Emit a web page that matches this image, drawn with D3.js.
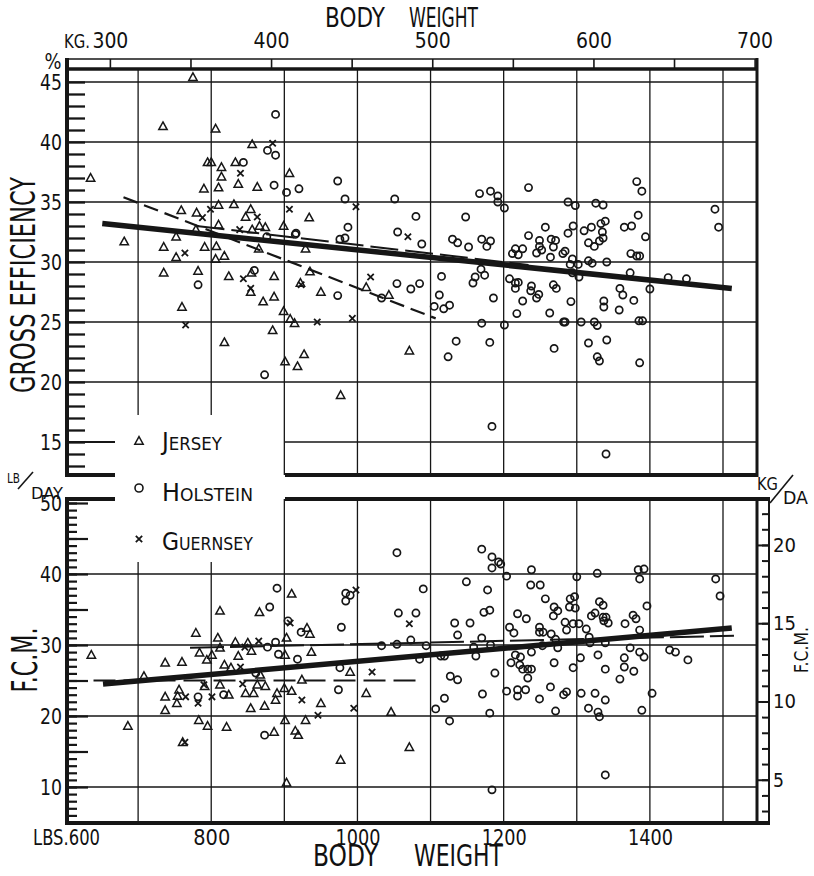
<!DOCTYPE html>
<html>
<head>
<meta charset="utf-8">
<script src="https://cdn.jsdelivr.net/npm/d3@7"></script>
<style>
  body { margin: 0; background: #fff; }
  svg { display: block; font-family: "DejaVu Sans", sans-serif; }
  text { fill: #111; }
</style>
</head>
<body>
<div id="wrapper"></div>
<script>
// tick labels
const lbsTicks = [800, 1000, 1200, 1400]
const kgTicks = [300, 400, 500, 600, 700]
const effTicks = [15, 20, 25, 30, 35, 40, 45]
const fcmTicks = [10, 20, 30, 40, 50]
const kgDayTicks = [5, 10, 15, 20]
const gridLbs = [700, 800, 900, 1000, 1100, 1200, 1300, 1400, 1500]

// gross efficiency (%) vs body weight (lbs)
const topJersey = [[775,45.4],[734,41.3],[806,41.1],[635,37.0],[856,39.8],[795,38.3],[800,38.3],[814,37.9],[833,38.3],[814,37.1],[790,36.1],[810,36.2],[837,36.5],[863,36.25],[907,37.4],[810,34.75],[831,34.8],[759,34.3],[780,34.1],[854,34.4],[847,33.75],[810,33.1],[779,32.7],[866,33.0],[874,32.9],[856,32.7],[899,33.0],[681,31.7],[752,32.1],[735,31.25],[791,31.25],[807,31.3],[752,30.4],[806,30.25],[818,30.5],[865,31.1],[735,29.1],[782,29.25],[824,28.8],[855,29.1],[886,28.8],[922,28.25],[871,26.7],[886,27.1],[760,26.25],[854,27.5],[899,25.9],[908,25.25],[914,24.9],[884,24.3],[818,23.3],[901,21.7],[918,21.3],[927,22.3],[934,33.7],[929,31.1],[935,29.2],[950,27.5],[1012,27.9],[1043,27.25],[977,18.9],[1071,22.6]]
const topHolstein = [[888,42.3],[877,39.3],[888,38.9],[844,38.3],[886,36.4],[903,35.8],[920,36.1],[915,32.3],[876,32.1],[782,28.1],[859,29.3],[873,20.6],[973,36.75],[983,35.25],[1051,35.25],[1080,33.8],[987,32.9],[976,31.9],[983,32.0],[1055,32.5],[1088,31.5],[916,32.4],[973,27.2],[1054,28.2],[1073,27.75],[1085,28.2],[1033,27.0],[1115,28.8],[1112,27.25],[1105,26.3],[1118,26.1],[1126,26.4],[1148,33.75],[1167,35.7],[1182,35.9],[1192,35.5],[1192,35.0],[1201,34.5],[1130,31.9],[1137,31.6],[1152,31.25],[1170,31.9],[1182,31.75],[1177,31.3],[1169,29.4],[1174,28.9],[1161,28.75],[1158,28.25],[1186,27.0],[1170,24.9],[1201,24.75],[1135,23.4],[1124,22.1],[1181,23.3],[1184,16.3],[1218,25.7],[1226,26.75],[1208,28.6],[1216,28.25],[1220,28.3],[1216,27.8],[1234,36.2],[1216,31.1],[1212,30.7],[1220,30.6],[1226,31.1],[1234,32.2],[1382,36.7],[1389,35.9],[1288,35.0],[1298,34.7],[1326,34.9],[1336,34.75],[1489,34.4],[1494,32.9],[1384,33.9],[1257,32.9],[1295,33.0],[1288,32.4],[1310,32.6],[1320,32.9],[1339,33.4],[1333,33.2],[1365,32.9],[1375,33.0],[1394,32.1],[1249,31.8],[1249,31.3],[1265,31.9],[1271,31.8],[1268,31.25],[1252,31.0],[1245,30.75],[1284,30.9],[1281,30.7],[1264,30.4],[1316,31.6],[1324,31.3],[1331,31.75],[1336,32.0],[1335,32.5],[1294,30.25],[1291,29.8],[1302,29.8],[1316,30.1],[1321,29.9],[1341,30.0],[1374,30.7],[1382,30.5],[1386,30.5],[1294,29.1],[1303,28.75],[1373,29.1],[1238,28.0],[1237,27.6],[1248,27.3],[1245,27.0],[1268,28.1],[1272,27.8],[1292,26.7],[1359,27.8],[1363,27.25],[1337,26.75],[1337,26.25],[1358,26.0],[1378,26.8],[1400,27.75],[1425,28.7],[1450,28.6],[1263,25.75],[1282,25.0],[1284,25.0],[1306,25.0],[1324,25.0],[1328,24.7],[1385,25.1],[1390,25.1],[1269,22.8],[1316,23.25],[1341,23.5],[1328,22.1],[1331,21.75],[1386,21.6],[1340,14.0]]
const topGuernsey = [[884,39.9],[840,37.4],[799,34.4],[788,33.7],[863,33.75],[907,34.4],[839,32.7],[764,30.75],[844,28.6],[854,27.8],[923,28.1],[765,24.75],[998,34.6],[1069,32.1],[1018,28.75],[945,25.0],[993,25.3]]

// F.C.M. (lb/day) vs body weight (lbs)
const botJersey = [[636,28.6],[686,18.6],[708,25.6],[737,27.5],[760,27.6],[737,22.7],[737,20.8],[756,23.7],[754,22.8],[753,21.8],[761,16.3],[779,31.7],[784,28.9],[783,19.4],[794,27.9],[795,18.6],[791,24.2],[801,28.6],[809,31.0],[812,34.8],[812,29.6],[818,27.2],[827,26.8],[812,24.4],[824,23.0],[821,18.45],[833,30.4],[837,28.45],[850,30.3],[855,29.15],[847,23.2],[858,23.2],[854,21.1],[866,34.6],[867,25.8],[863,24.4],[874,24.2],[873,21.4],[886,17.75],[890,23.2],[888,22.25],[910,37.2],[903,31.0],[901,28.6],[900,23.9],[910,23.5],[901,19.4],[931,32.4],[935,31.55],[937,29.0],[929,19.4],[915,17.9],[919,17.3],[903,10.6],[950,21.8],[977,13.8],[990,26.2],[1012,23.2],[1046,20.55],[1071,15.6],[924,25.1]]
const botHolstein = [[890,38.0],[880,35.35],[905,33.4],[923,31.8],[888,30.4],[877,29.7],[892,28.7],[918,28.0],[782,22.7],[817,23.0],[861,26.05],[873,17.3],[1054,43.0],[984,37.3],[990,37.0],[984,36.2],[978,32.5],[1090,37.9],[1056,34.5],[1080,34.5],[1073,30.7],[1033,29.9],[1094,29.9],[1085,28.0],[976,26.8],[974,23.7],[1054,30.1],[1114,28.45],[1119,28.45],[1127,25.6],[1137,25.1],[1119,22.5],[1107,21.0],[1126,19.3],[1170,43.5],[1184,42.4],[1193,41.7],[1196,41.4],[1184,40.85],[1204,39.7],[1149,38.9],[1178,37.75],[1238,40.6],[1237,38.45],[1250,38.45],[1257,36.5],[1173,34.6],[1181,34.9],[1133,33.1],[1154,33.1],[1137,31.4],[1170,31.0],[1159,29.7],[1162,28.45],[1182,30.0],[1208,32.5],[1214,31.7],[1219,34.4],[1231,33.7],[1249,32.5],[1249,31.8],[1254,31.8],[1253,29.9],[1238,29.0],[1216,28.6],[1223,28.3],[1210,27.5],[1222,27.2],[1226,26.6],[1233,26.6],[1238,26.6],[1233,25.35],[1188,26.05],[1204,23.5],[1219,23.7],[1230,23.7],[1219,22.8],[1249,22.4],[1171,23.1],[1181,20.4],[1184,9.6],[1328,40.1],[1384,40.6],[1392,40.7],[1386,39.3],[1300,39.6],[1291,36.5],[1297,36.8],[1290,35.35],[1298,35.2],[1269,35.35],[1274,34.8],[1268,34.1],[1331,36.1],[1336,35.6],[1320,34.1],[1325,34.5],[1336,33.9],[1340,33.9],[1337,33.4],[1343,33.1],[1396,35.5],[1377,34.2],[1381,33.7],[1366,33.0],[1386,32.1],[1284,33.2],[1286,32.1],[1295,33.0],[1303,33.0],[1313,32.25],[1265,31.55],[1271,30.8],[1274,29.6],[1317,31.1],[1318,30.3],[1339,30.3],[1373,29.6],[1386,29.0],[1392,28.3],[1365,28.2],[1365,26.9],[1378,26.3],[1329,28.6],[1305,28.2],[1295,26.8],[1269,27.5],[1339,26.6],[1359,25.2],[1427,29.3],[1435,29.0],[1452,27.9],[1403,23.2],[1264,24.1],[1282,23.0],[1286,23.4],[1306,23.2],[1325,23.2],[1339,22.25],[1316,21.1],[1329,20.55],[1331,19.9],[1271,20.7],[1389,20.8],[1339,11.7],[1490,39.3],[1496,36.9]]
const botGuernsey = [[765,22.7],[782,21.8],[801,22.7],[764,16.3],[790,24.4],[840,26.9],[843,24.5],[865,30.55],[846,29.7],[908,33.1],[924,22.25],[946,20.1],[998,37.75],[1071,33.0],[1020,26.2],[995,21.1]]

// regression lines (end points)
const topFitAll = [[651,33.2],[1512,27.8]]
const topFitJersey = [[680,35.4],[1107,25.3]]
const topFitGuernsey = [[780,33.0],[1234,29.75]]
const botFitAll = [[652,24.5],[1512,32.4]]
const botFitJersey = [[639,25.0],[1080,25.0]]
const botFitOther = [[771,29.6],[1515,31.3]]

const LB_PER_KG = 2.20462

async function drawChart() {
  const dimensions = {
    width: 814,
    height: 876,
    left: 67,
    right: 757,
    rightAxis: 769,
    stripTop: 59,
    top1: 69,
    bottom1: 475,
    top2: 499,
    bottom2: 823,
    gapLeft: 115,
    gapRight: 285,
    legendTop: 415,
    legendBottom: 562,
  }
  const dm = dimensions

  const x = d3.scaleLinear().domain([600, 1500]).range([65, 723])
  const xKg = d3.scaleLinear().domain([300, 700]).range([x(300 * LB_PER_KG), x(700 * LB_PER_KG)])
  const yTop = d3.scaleLinear().domain([15, 45]).range([442, 82])
  const yBot = d3.scaleLinear().domain([10, 50]).range([787, 503])
  const yKgDay = d3.scaleLinear().domain([5, 20]).range([yBot(5 * LB_PER_KG), yBot(20 * LB_PER_KG)])

  const svg = d3.select("#wrapper").append("svg")
      .attr("width", dm.width)
      .attr("height", dm.height)
  svg.append("rect").attr("width", dm.width).attr("height", dm.height).attr("fill", "#fff")

  const ink = "#161616"
  const fmt = d3.format("d")

  // grid
  const grid = svg.append("g").attr("stroke", ink).attr("stroke-width", 1.3)
  grid.selectAll(".vt").data(gridLbs).join("line").attr("class", "vt")
      .attr("x1", d => x(d)).attr("x2", d => x(d))
      .attr("y1", dm.top1)
      .attr("y2", d => d < 900 ? dm.legendTop : dm.bottom1)
  grid.selectAll(".vb").data(gridLbs).join("line").attr("class", "vb")
      .attr("x1", d => x(d)).attr("x2", d => x(d))
      .attr("y1", d => d < 900 ? dm.legendBottom : dm.top2)
      .attr("y2", dm.bottom2)
  grid.selectAll(".ht").data(effTicks).join("line").attr("class", "ht")
      .attr("x1", d => d === 15 ? dm.gapRight : dm.left)
      .attr("x2", dm.right)
      .attr("y1", d => yTop(d)).attr("y2", d => yTop(d))
  grid.append("line")
      .attr("x1", dm.left).attr("x2", dm.gapLeft)
      .attr("y1", yTop(15)).attr("y2", yTop(15))
      .attr("stroke-width", 2)
  grid.selectAll(".hb").data(fcmTicks.filter(d => d < 50)).join("line").attr("class", "hb")
      .attr("x1", dm.left).attr("x2", dm.right)
      .attr("y1", d => yBot(d)).attr("y2", d => yBot(d))

  // frames
  const frame = svg.append("g").attr("stroke", ink).attr("fill", "none")
  const seg = (x1, y1, x2, y2, w) => frame.append("line")
      .attr("x1", x1).attr("y1", y1).attr("x2", x2).attr("y2", y2).attr("stroke-width", w)
  seg(dm.left - 2, dm.stripTop, dm.right + 1, dm.stripTop, 1.6)
  seg(dm.left - 2, dm.top1, dm.right + 1, dm.top1, 3.5)
  seg(dm.left, dm.stripTop - 1, dm.left, dm.bottom1 + 2, 4)
  seg(dm.left, dm.top2 - 2, dm.left, dm.bottom2 + 2, 4)
  seg(dm.right, dm.stripTop - 1, dm.right, dm.bottom1 + 2, 3)
  seg(dm.right, dm.top2 - 2, dm.right, dm.bottom2 + 2, 3)
  seg(dm.rightAxis, dm.top2 - 2, dm.rightAxis, dm.bottom2 + 2, 2)
  seg(dm.left - 2, dm.bottom1, dm.gapLeft, dm.bottom1, 4)
  seg(dm.gapRight, dm.bottom1, dm.right + 1, dm.bottom1, 4)
  seg(dm.left - 2, dm.top2, dm.gapLeft, dm.top2, 4)
  seg(dm.gapRight, dm.top2, dm.rightAxis + 1, dm.top2, 4)
  seg(dm.left - 2, dm.bottom2, dm.rightAxis + 1, dm.bottom2, 4)

  const clean = g => {
    g.select(".domain").remove()
    g.attr("font-family", null).attr("font-size", null)
    g.selectAll("line").attr("stroke", ink)
    g.selectAll("text").attr("fill", ink)
  }

  // kg strip on top
  svg.append("g")
      .attr("transform", `translate(0,${dm.top1})`)
      .call(d3.axisTop(xKg).tickValues(d3.range(300, 701, 50)).tickSize(dm.top1 - dm.stripTop).tickFormat(""))
      .call(clean)
      .selectAll("line").attr("stroke-width", 1.6)
  svg.append("g")
      .attr("transform", "translate(0,48)")
      .call(d3.axisTop(xKg).tickValues(kgTicks).tickSize(0).tickPadding(0).tickFormat(fmt))
      .call(clean)
      .selectAll("text").attr("font-size", 21).attr("textLength", 36).attr("lengthAdjust", "spacingAndGlyphs")

  // left axis, top panel
  svg.append("g")
      .attr("transform", `translate(${dm.left},0)`)
      .call(d3.axisRight(yTop).tickValues(d3.range(13, 46)).tickSize(18).tickFormat(""))
      .call(clean)
      .selectAll("line").attr("stroke-width", 2.3)
  svg.append("g")
      .attr("transform", `translate(${dm.left - 2},0)`)
      .call(d3.axisLeft(yTop).tickValues(effTicks).tickSize(0).tickPadding(3).tickFormat(fmt))
      .call(clean)
      .selectAll("text").attr("font-size", 22).attr("textLength", 22).attr("lengthAdjust", "spacingAndGlyphs")

  // left axis, bottom panel
  svg.append("g")
      .attr("transform", `translate(${dm.left},0)`)
      .call(d3.axisRight(yBot).tickValues(d3.range(5, 51)).tickSize(10).tickFormat(""))
      .call(clean)
      .selectAll("line").attr("stroke-width", 2.2)
  svg.append("g")
      .attr("transform", `translate(${dm.left},0)`)
      .call(d3.axisRight(yBot).tickValues(d3.range(5, 51, 5)).tickSize(21).tickFormat(""))
      .call(clean)
      .selectAll("line").attr("stroke-width", 2.2)
  svg.append("g")
      .attr("transform", `translate(${dm.left - 2},0)`)
      .call(d3.axisLeft(yBot).tickValues(fcmTicks).tickSize(0).tickPadding(3).tickFormat(fmt))
      .call(clean)
      .selectAll("text").attr("font-size", 22).attr("textLength", 22).attr("lengthAdjust", "spacingAndGlyphs")

  // right axis, kg per day
  svg.append("g")
      .attr("transform", `translate(${dm.rightAxis},0)`)
      .call(d3.axisLeft(yKgDay).tickValues(d3.range(3, 23)).tickSize(7).tickFormat(""))
      .call(clean)
      .selectAll("line").attr("stroke-width", 2)
  svg.append("g")
      .attr("transform", `translate(${dm.rightAxis},0)`)
      .call(d3.axisLeft(yKgDay).tickValues(kgDayTicks).tickSize(12).tickFormat(""))
      .call(clean)
      .selectAll("line").attr("stroke-width", 2)
  svg.append("g")
      .attr("transform", `translate(${dm.rightAxis},0)`)
      .call(d3.axisRight(yKgDay).tickValues(kgDayTicks).tickSize(0).tickPadding(4).tickFormat(fmt))
      .call(clean)
      .selectAll("text").attr("font-size", 20)
        .attr("textLength", d => d < 10 ? 11 : 23).attr("lengthAdjust", "spacingAndGlyphs")

  // bottom lbs labels
  svg.append("g")
      .attr("transform", "translate(0,830)")
      .call(d3.axisBottom(x).tickValues(lbsTicks).tickSize(0).tickPadding(0).tickFormat(fmt))
      .call(clean)
      .selectAll("text").attr("font-size", 21)
        .attr("textLength", d => d < 1000 ? 37 : 45).attr("lengthAdjust", "spacingAndGlyphs")

  // regression lines
  const lineTop = d3.line().x(d => x(d[0])).y(d => yTop(d[1]))
  const lineBot = d3.line().x(d => x(d[0])).y(d => yBot(d[1]))
  const fits = svg.append("g").attr("fill", "none").attr("stroke", ink)
  fits.append("path").attr("d", lineTop(topFitJersey)).attr("stroke-width", 2.2).attr("stroke-dasharray", "15,7")
  fits.append("path").attr("d", lineTop(topFitGuernsey)).attr("stroke-width", 2).attr("stroke-dasharray", "28,7")
  fits.append("path").attr("d", lineTop(topFitAll)).attr("stroke-width", 5.5)
  fits.append("path").attr("d", lineBot(botFitJersey)).attr("stroke-width", 2.2).attr("stroke-dasharray", "22,8")
  fits.append("path").attr("d", lineBot(botFitOther)).attr("stroke-width", 2).attr("stroke-dasharray", "34,6")
  fits.append("path").attr("d", lineBot(botFitAll)).attr("stroke-width", 5.5)

  // markers
  const triangle = { draw(ctx, size) {
    const s = Math.sqrt(size)
    ctx.moveTo(0, -0.58 * s); ctx.lineTo(0.55 * s, 0.42 * s); ctx.lineTo(-0.55 * s, 0.42 * s); ctx.closePath()
  } }
  const cross = { draw(ctx, size) {
    const r = Math.sqrt(size) / 2
    ctx.moveTo(-r, -r); ctx.lineTo(r, r); ctx.moveTo(r, -r); ctx.lineTo(-r, r)
  } }
  const triPath = d3.symbol().type(triangle).size(58)
  const crossPath = d3.symbol().type(cross).size(40)

  const marks = svg.append("g").attr("fill", "none").attr("stroke", ink)
  const drawDots = (data, yScale, kind) => {
    if (kind === "circle") {
      marks.append("g").selectAll("circle").data(data).join("circle")
          .attr("cx", d => x(d[0])).attr("cy", d => yScale(d[1]))
          .attr("r", 3.6).attr("stroke-width", 1.7)
    } else {
      marks.append("g").selectAll("path").data(data).join("path")
          .attr("transform", d => `translate(${x(d[0])},${yScale(d[1])})`)
          .attr("d", kind === "tri" ? triPath : crossPath)
          .attr("stroke-width", kind === "tri" ? 1.5 : 1.8)
    }
  }
  drawDots(topHolstein, yTop, "circle")
  drawDots(topJersey, yTop, "tri")
  drawDots(topGuernsey, yTop, "cross")
  drawDots(botHolstein, yBot, "circle")
  drawDots(botJersey, yBot, "tri")
  drawDots(botGuernsey, yBot, "cross")

  // legend
  const legend = svg.append("g")
  legend.append("path").attr("transform", "translate(139,441)").attr("d", triPath)
      .attr("fill", "none").attr("stroke", ink).attr("stroke-width", 1.5)
  legend.append("circle").attr("cx", 139).attr("cy", 488).attr("r", 4)
      .attr("fill", "none").attr("stroke", ink).attr("stroke-width", 1.6)
  legend.append("path").attr("transform", "translate(139,539)").attr("d", crossPath)
      .attr("fill", "none").attr("stroke", ink).attr("stroke-width", 1.8)
  const legendItems = [["Jersey", 450, 60], ["Holstein", 501, 91], ["Guernsey", 550, 91]]
  legend.selectAll("text").data(legendItems).join("text")
      .attr("x", 162).attr("y", d => d[1])
      .attr("font-size", 25).style("font-variant", "small-caps")
      .attr("textLength", d => d[2]).attr("lengthAdjust", "spacingAndGlyphs")
      .text(d => d[0])

  // titles and units
  const label = (tx, ty, str, size, len, anchor = "start", rot = 0) => svg.append("text")
      .attr("transform", `translate(${tx},${ty}) rotate(${rot})`)
      .attr("font-size", size)
      .attr("text-anchor", anchor)
      .attr("textLength", len)
      .attr("lengthAdjust", "spacingAndGlyphs")
      .text(str)

  label(325, 27, "BODY", 27, 60)
  label(409, 27, "WEIGHT", 27, 69)
  label(313, 866, "BODY", 31, 65)
  label(414, 866, "WEIGHT", 31, 89)
  label(xKg(300) - 20, 48, "KG.", 19, 26, "end")
  label(100, 845, "LBS.600", 21, 67, "end")
  label(35, 285, "GROSS EFFICIENCY", 33, 216, "middle", -90)
  label(37, 660, "F.C.M.", 36, 65, "middle", -90)
  label(808, 650, "F.C.M.", 20, 46, "middle", -90)
  label(53, 69, "%", 22, 17, "middle")
  label(7, 483, "LB", 14, 13)
  label(31, 499, "DAY", 16, 32)
  label(757, 490, "KG", 17, 21)
  label(783, 504, "DA", 18, 25)
  svg.append("line").attr("x1", 18).attr("y1", 489).attr("x2", 33).attr("y2", 472)
      .attr("stroke", ink).attr("stroke-width", 1.6)
  svg.append("line").attr("x1", 770).attr("y1", 503).attr("x2", 793).attr("y2", 475)
      .attr("stroke", ink).attr("stroke-width", 1.6)
}
drawChart()
</script>
</body>
</html>
